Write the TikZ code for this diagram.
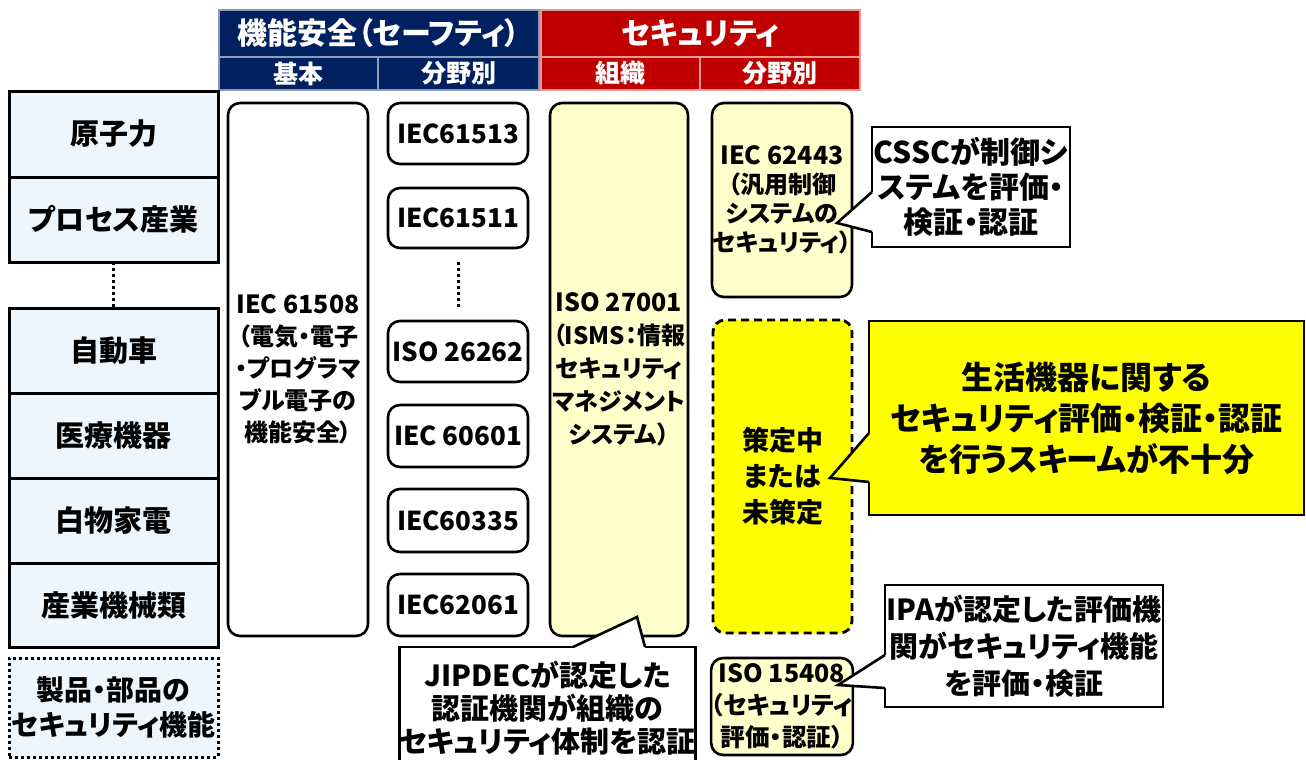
\documentclass[tikz,border=0pt]{standalone}
\usepackage{fontspec}
\setmainfont{Noto Sans CJK JP}[RawFeature=+palt]
\definecolor{navyh}{RGB}{0,32,96}
\definecolor{redh}{RGB}{192,0,0}
\definecolor{lblue}{RGB}{237,245,253}
\definecolor{lyel}{RGB}{255,255,204}
\definecolor{yel}{RGB}{255,255,0}
\newcommand\setfs[2]{\fontsize{#1}{#2}\selectfont}
\newcommand\latn[1]{{\fontsize{12.5}{12.5}\selectfont #1}}
\begin{document}
\begin{tikzpicture}[x=0.5pt,y=-0.5pt,
  boxat/.style n args={4}{at={({(#1+#3)/2},{(#2+#4)/2})}, minimum width={(#3-#1)*0.5pt}, minimum height={(#4-#2)*0.5pt}},
  cell/.style={inner sep=0pt, outer sep=0pt, align=center, anchor=center},
  hdr/.style={cell, draw=white!55!navyh, line width=0.6pt, fill=navyh, text=white, font=\bfseries\setfs{15}{18}},
  hdrr/.style={hdr, draw=white!60!redh, fill=redh},
  subh/.style={font=\bfseries\setfs{12.5}{15}},
  cat/.style={cell, draw, line width=1.5pt, fill=lblue, font=\bfseries\setfs{14.5}{17}},
  std/.style={cell, draw, line width=1.3pt, rounded corners=6pt, fill=white},
  mid/.style={std, font=\bfseries\setfs{13}{16}},
  sec/.style={std, fill=lyel},
  call/.style={cell, draw, line width=1.3pt, fill=white},
  dots/.style={line width=1.5pt, dash pattern=on 1.5pt off 1.5pt},
  ptr/.style={line width=1.3pt, line join=miter}
]
\useasboundingbox (0,0) rectangle (1306,760);

% headers
\node[hdr, boxat={219}{10}{539}{57}] (hsafe) {機能安全（セーフティ）};
\node[hdr, subh, boxat={219}{57}{378}{90}] (hbase) {基本};
\node[hdr, subh, boxat={378}{57}{539}{90}] (hfield) {分野別};
\node[hdrr, boxat={541}{10}{860}{57}] (hsec) {セキュリティ};
\node[hdrr, subh, boxat={541}{57}{700}{90}] (horg) {組織};
\node[hdrr, subh, boxat={700}{57}{860}{90}] (hfield2) {分野別};

% left categories
\node[cat, boxat={9}{91}{218}{177}] (nuc) {原子力};
\node[cat, boxat={9}{177}{218}{262}] (proc) {プロセス産業};
\node[cat, boxat={9}{308}{218}{393}] (car) {自動車};
\node[cat, boxat={9}{393}{218}{478}] (med) {医療機器};
\node[cat, boxat={9}{478}{218}{563}] (home) {白物家電};
\node[cat, boxat={9}{563}{218}{647}] (ind) {産業機械類};
\node[cat, dots, boxat={9}{658}{218}{757}, font=\bfseries\setfs{14}{17.5}] (prod) {製品・部品の\\セキュリティ機能};
\draw[dots] (proc.south) -- (car.north);

% basic safety
\node[std, boxat={228}{103}{368}{636}, font=\bfseries\setfs{12}{16}] (iec61508)
  {\latn{IEC 61508}\\（電気・電子\\・プログラマ\\ブル電子の\\機能安全）};

% field safety
\node[mid, boxat={388}{103}{528}{164}] (iec61513) {IEC61513};
\node[mid, boxat={388}{188}{528}{248}] (iec61511) {IEC61511};
\node[mid, boxat={388}{321}{528}{382}] (iso26262) {ISO 26262};
\node[mid, boxat={388}{405}{528}{467}] (iec60601) {IEC 60601};
\node[mid, boxat={388}{489}{528}{552}] (iec60335) {IEC60335};
\node[mid, boxat={388}{574}{528}{636}] (iec62061) {IEC62061};
\draw[dots, shorten <=7pt, shorten >=7pt] (iec61511.south) -- (iso26262.north);

% organisation security
\node[sec, boxat={550}{103}{688}{636}, font=\bfseries\setfs{12}{16.5}] (iso27001)
  {\latn{ISO 27001}\\（ISMS：情報\\セキュリティ\\マネジメント\\システム）};

% field security
\node[sec, boxat={712}{103}{852}{297}, font=\bfseries\setfs{12}{14.5}] (iec62443)
  {\latn{IEC 62443}\\（汎用制御\\システムの\\セキュリティ）};
\node[sec, fill=yel, line width=1.4pt, dash pattern=on 4pt off 2.5pt, boxat={713}{320}{852}{633}, font=\bfseries\setfs{13.5}{18}] (tbd)
  {策定中\\または\\未策定};
\node[sec, boxat={712}{658}{852}{755}, font=\bfseries\setfs{12.3}{16}] (iso15408)
  {\latn{ISO 15408}\\（セキュリティ\\評価・認証）};

% callout CSSC
\node[call, boxat={872}{127}{1070}{247}, font=\bfseries\setfs{15}{17.5}] (cssc)
  {CSSCが制御シ\\ステムを評価・\\検証・認証};
\coordinate (cssctip) at (837,223);
\fill[white] (cssc.west |- 0,192) -- (cssctip) -- (cssc.west |- 0,232) -- (876,232) -- (876,192) -- cycle;
\draw[ptr] (cssc.west |- 0,192) -- (cssctip) -- (cssc.west |- 0,232);

% callout big yellow
\node[call, fill=yel, boxat={869}{321}{1304}{515}, font=\bfseries\setfs{16}{20.5}] (big)
  {生活機器に関する\\セキュリティ評価・検証・認証\\を行うスキームが不十分};
\coordinate (bigtip) at (830,478);
\fill[yel] (big.west |- 0,433) -- (bigtip) -- (big.west |- 0,482) -- (873,482) -- (873,433) -- cycle;
\draw[ptr] (big.west |- 0,433) -- (bigtip) -- (big.west |- 0,482);

% callout IPA
\node[call, boxat={885}{585}{1163}{707}, font=\bfseries\setfs{14.5}{18.5}] (ipa)
  {IPAが認定した評価機\\関がセキュリティ機能\\を評価・検証};
\coordinate (ipatip) at (838,685);
\fill[white] (ipa.west |- 0,655) -- (ipatip) -- (ipa.west |- 0,688) -- (889,688) -- (889,655) -- cycle;
\draw[ptr] (ipa.west |- 0,655) -- (ipatip) -- (ipa.west |- 0,688);

% callout JIPDEC
\node[call, boxat={402}{647}{693}{769}, font=\bfseries\setfs{14.5}{16.5}] (jip)
  {JIPDECが認定した\\認証機関が組織の\\セキュリティ体制を認証};
\coordinate (jiptip) at (637,617);
\fill[white] (jip.north -| 573,0) -- (jiptip) -- (jip.north -| 645,0) -- (645,651) -- (573,651) -- cycle;
\draw[ptr] (jip.north -| 573,0) -- (jiptip) -- (jip.north -| 645,0);
\end{tikzpicture}
\end{document}
